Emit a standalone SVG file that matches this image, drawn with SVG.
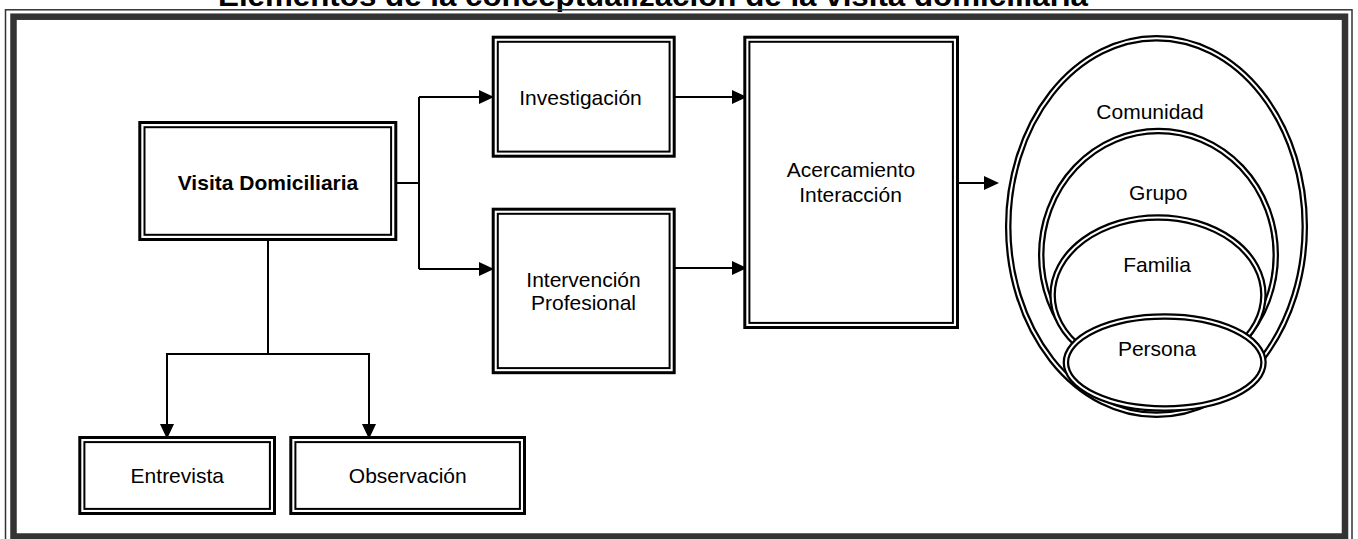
<svg xmlns="http://www.w3.org/2000/svg" width="1358" height="539" viewBox="0 0 1358 539">
<style>
  .t{font-family:"Liberation Sans",Arial,sans-serif;font-size:21px;fill:#000;text-anchor:middle}
  .b{font-weight:bold}
  .ob{fill:#fff;stroke:#000;stroke-width:3}
  .ib{fill:none;stroke:#000;stroke-width:2}
  .eo{fill:#fff;stroke:#000;stroke-width:6.5}
  .ei{fill:none;stroke:#fff;stroke-width:2}
  .c{fill:none;stroke:#000;stroke-width:2}
</style>
<defs>
  <marker id="ah" viewBox="0 0 15 14" refX="13" refY="7" markerWidth="15" markerHeight="14" markerUnits="userSpaceOnUse" orient="auto">
    <path d="M0,0 L15,7 L0,14 z" fill="#000"/>
  </marker>
</defs>
<rect width="1358" height="539" fill="#fff"/>
<text x="218" y="6" font-family="Liberation Sans,Arial,sans-serif" font-size="30" font-weight="bold" textLength="870" lengthAdjust="spacingAndGlyphs">Elementos de la conceptualización de la visita domiciliaria</text>
<g id="frame">
  <rect x="5.5" y="9.8" width="1346.5" height="540" fill="none" stroke="#333" stroke-width="1.5"/>
  <rect x="13.5" y="16.7" width="1331.5" height="519.8" fill="none" stroke="#333" stroke-width="6.5"/>
</g>
<g id="connectors">
  <path class="c" d="M397,183 H419"/>
  <path class="c" d="M419,97 V269"/>
  <path class="c" d="M419,97 H492" marker-end="url(#ah)"/>
  <path class="c" d="M419,269 H492" marker-end="url(#ah)"/>
  <path class="c" d="M673,97 H745" marker-end="url(#ah)"/>
  <path class="c" d="M673,268 H745" marker-end="url(#ah)"/>
  <path class="c" d="M268,241 V354"/>
  <path class="c" d="M167,354 H369"/>
  <path class="c" d="M167,353 V437" marker-end="url(#ah)"/>
  <path class="c" d="M369,353 V437" marker-end="url(#ah)"/>
  <path class="c" d="M949,183 H997" marker-end="url(#ah)"/>
</g>
<g id="visita">
  <rect class="ob" x="139.8" y="122.5" width="256" height="117"/>
  <rect class="ib" x="144.5" y="127.2" width="246.6" height="107.6"/>
  <text class="t b" x="268" y="190">Visita Domiciliaria</text>
</g>
<g id="investigacion">
  <rect class="ob" x="493.2" y="37.2" width="181" height="119"/>
  <rect class="ib" x="497.8" y="41.8" width="171.8" height="109.8"/>
  <text class="t" x="580.5" y="105">Investigación</text>
</g>
<g id="intervencion">
  <rect class="ob" x="493.2" y="209.2" width="181" height="163.5"/>
  <rect class="ib" x="497.8" y="213.8" width="171.8" height="154.3"/>
  <text class="t" x="583.5" y="286.7">Intervención</text>
  <text class="t" x="583.5" y="310">Profesional</text>
</g>
<g id="acercamiento">
  <rect class="ob" x="744.8" y="37.2" width="212.7" height="290.3"/>
  <rect class="ib" x="749.4" y="41.8" width="203.5" height="281.1"/>
  <text class="t" x="851" y="177.3">Acercamiento</text>
  <text class="t" x="850.5" y="201.7">Interacción</text>
</g>
<g id="entrevista">
  <rect class="ob" x="79.8" y="437.5" width="194.7" height="76"/>
  <rect class="ib" x="84.4" y="442.1" width="185.5" height="66.8"/>
  <text class="t" x="177.3" y="483.3">Entrevista</text>
</g>
<g id="observacion">
  <rect class="ob" x="290.8" y="437.5" width="233.7" height="76"/>
  <rect class="ib" x="295.4" y="442.1" width="224.5" height="66.8"/>
  <text class="t" x="407.8" y="483.3">Observación</text>
</g>
<g id="comunidad">
  <ellipse class="eo" cx="1156.5" cy="226.5" rx="148.3" ry="188.3"/>
  <ellipse class="ei" cx="1156.5" cy="226.5" rx="148.3" ry="188.3"/>
  <text class="t" x="1150" y="119.3">Comunidad</text>
</g>
<g id="grupo">
  <ellipse class="eo" cx="1158.5" cy="255" rx="117.3" ry="124"/>
  <ellipse class="ei" cx="1158.5" cy="255" rx="117.3" ry="124"/>
  <text class="t" x="1158.3" y="200">Grupo</text>
</g>
<g id="familia">
  <ellipse class="eo" cx="1158" cy="295" rx="105.4" ry="77.5"/>
  <ellipse class="ei" cx="1158" cy="295" rx="105.4" ry="77.5"/>
  <text class="t" x="1157" y="272.3">Familia</text>
</g>
<g id="persona">
  <ellipse class="eo" cx="1164.7" cy="362.5" rx="98.8" ry="46"/>
  <ellipse class="ei" cx="1164.7" cy="362.5" rx="98.8" ry="46"/>
  <text class="t" x="1157" y="355.7">Persona</text>
</g>
</svg>
